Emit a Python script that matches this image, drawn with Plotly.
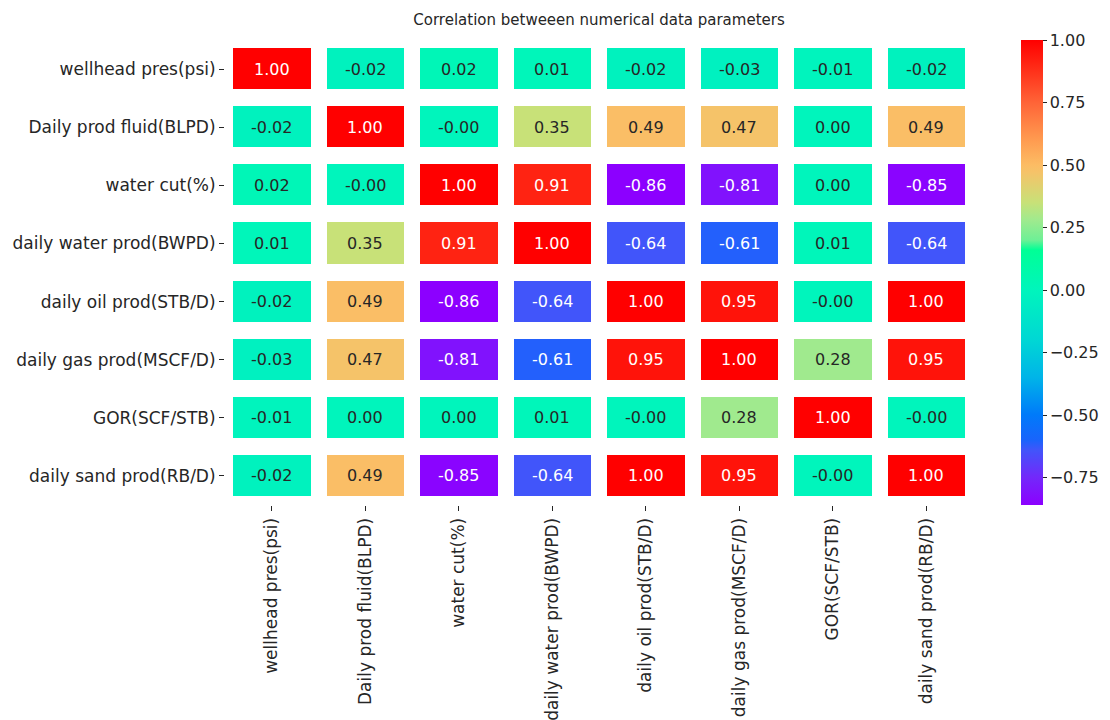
import math
import plotly.graph_objects as go

# Parameter names (same order on both axes)
params = [
    "wellhead pres(psi)",
    "Daily prod fluid(BLPD)",
    "water cut(%)",
    "daily water prod(BWPD)",
    "daily oil prod(STB/D)",
    "daily gas prod(MSCF/D)",
    "GOR(SCF/STB)",
    "daily sand prod(RB/D)",
]

# Correlation matrix rows
r_wellhead = [1.00, -0.02, 0.02, 0.01, -0.02, -0.03, -0.01, -0.02]
r_fluid = [-0.02, 1.00, -0.0, 0.35, 0.49, 0.47, 0.00, 0.49]
r_watercut = [0.02, -0.0, 1.00, 0.91, -0.86, -0.81, 0.00, -0.85]
r_water = [0.01, 0.35, 0.91, 1.00, -0.64, -0.61, 0.01, -0.64]
r_oil = [-0.02, 0.49, -0.86, -0.64, 1.00, 0.95, -0.0, 1.00]
r_gas = [-0.03, 0.47, -0.81, -0.61, 0.95, 1.00, 0.28, 0.95]
r_gor = [-0.01, 0.00, 0.00, 0.01, -0.0, 0.28, 1.00, -0.0]
r_sand = [-0.02, 0.49, -0.85, -0.64, 1.00, 0.95, -0.0, 1.00]

corr = [r_wellhead, r_fluid, r_watercut, r_water, r_oil, r_gas, r_gor, r_sand]

zmin = min(min(r) for r in corr)
zmax = max(max(r) for r in corr)

FONT = "DejaVu Sans"
TEXT = "#262626"

# Rainbow palette anchored on correlation values (violet -> blue -> cyan -> green -> orange -> red)
palette = [
    (-0.86, (140, 0, 255)),
    (-0.75, (115, 40, 250)),
    (-0.64, (65, 85, 250)),
    (-0.60, (25, 100, 252)),
    (-0.50, (0, 122, 250)),
    (-0.35, (0, 180, 232)),
    (-0.20, (0, 215, 212)),
    (0.00, (0, 245, 188)),
    (0.16, (0, 255, 150)),
    (0.20, (110, 240, 150)),
    (0.28, (160, 234, 142)),
    (0.35, (200, 225, 120)),
    (0.47, (245, 195, 105)),
    (0.50, (252, 188, 100)),
    (0.60, (255, 155, 80)),
    (0.75, (255, 100, 55)),
    (0.91, (255, 35, 18)),
    (1.00, (255, 0, 0)),
]


def color_at(v):
    if v <= palette[0][0]:
        return palette[0][1]
    for (v0, c0), (v1, c1) in zip(palette[:-1], palette[1:]):
        if v <= v1:
            f = (v - v0) / (v1 - v0)
            return tuple(a + (b - a) * f for a, b in zip(c0, c1))
    return palette[-1][1]


def to_css(rgb):
    return "rgb({},{},{})".format(*[int(round(c)) for c in rgb])


def luminance(rgb):
    lin = []
    for c in rgb:
        c = c / 255.0
        lin.append(c / 12.92 if c <= 0.03928 else ((c + 0.055) / 1.055) ** 2.4)
    return 0.2126 * lin[0] + 0.7152 * lin[1] + 0.0722 * lin[2]


colorscale = []
for v, rgb in palette:
    t = (v - zmin) / (zmax - zmin)
    t = min(1.0, max(0.0, t))
    colorscale.append([t, to_css(rgb)])
colorscale[0][0] = 0.0
colorscale[-1][0] = 1.0

fig = go.Figure()
fig.add_trace(
    go.Heatmap(
        z=corr,
        x=params,
        y=params,
        zmin=zmin,
        zmax=zmax,
        colorscale=colorscale,
        xgap=16,
        ygap=17,
        hoverinfo="skip",
        colorbar=dict(
            x=1.064,
            xanchor="left",
            xpad=0,
            y=0.5,
            yanchor="middle",
            len=1.0,
            lenmode="fraction",
            thickness=22,
            ypad=0,
            outlinewidth=0,
            tickvals=[-0.75, -0.5, -0.25, 0.0, 0.25, 0.5, 0.75, 1.0],
            tickformat=".2f",
            ticks="outside",
            ticklen=4,
            tickwidth=1,
            tickcolor=TEXT,
            tickfont=dict(family=FONT, size=16, color=TEXT),
        ),
    )
)

# Cell annotations, text colour chosen from the cell's luminance
annotations = []
for i, row in enumerate(corr):
    for j, v in enumerate(row):
        col = TEXT if luminance(color_at(v)) > 0.408 else "white"
        annotations.append(
            dict(
                x=params[j],
                y=params[i],
                xref="x",
                yref="y",
                text=f"{v:.2f}",
                showarrow=False,
                font=dict(family=FONT, size=16, color=col),
            )
        )

fig.update_layout(
    width=1110,
    height=720,
    margin=dict(l=225, r=137, t=40, b=215, autoexpand=False),
    paper_bgcolor="white",
    plot_bgcolor="white",
    annotations=annotations,
    title=dict(
        text="Correlation betweeen numerical data parameters",
        x=0.5,
        xref="paper",
        xanchor="center",
        y=1 - 20 / 720,
        yanchor="middle",
        font=dict(family=FONT, size=15, color=TEXT),
    ),
    xaxis=dict(
        tickangle=-90,
        ticks="outside",
        ticklen=5,
        tickcolor=TEXT,
        tickfont=dict(family=FONT, size=17, color=TEXT),
        showgrid=False,
        zeroline=False,
        showline=False,
        automargin=False,
    ),
    yaxis=dict(
        autorange="reversed",
        ticks="outside",
        ticklen=5,
        tickcolor=TEXT,
        tickfont=dict(family=FONT, size=17, color=TEXT),
        showgrid=False,
        zeroline=False,
        showline=False,
        automargin=False,
    ),
)

fig.write_html("out.html")
